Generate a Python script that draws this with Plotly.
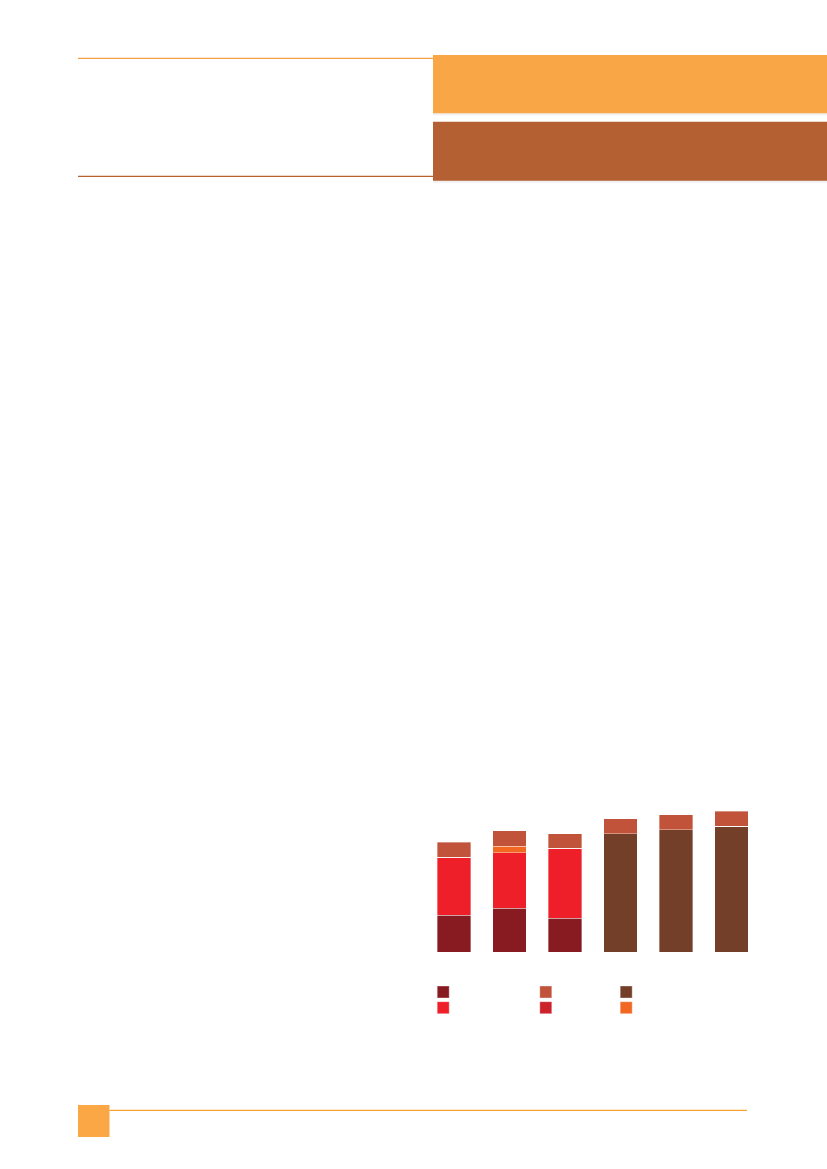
import plotly.graph_objects as go

# ---- data (arbitrary units) ----
categories = ["A", "B", "C", "D", "E", "F"]
seg_darkred = [37.0, 44.0, 34.0, 0, 0, 0]
seg_red = [58.3, 55.7, 70.0, 0, 0, 0]
seg_crimson = [0, 0, 0, 0, 0, 0]
seg_orange = [0, 6.3, 0, 0, 0, 0]
seg_brown = [0, 0, 0, 118.7, 122.7, 126.0]
seg_brick = [15.0, 15.7, 14.7, 14.7, 14.7, 15.0]

W, H = 827, 1169


def px(x):
    return x / W


def py(y):
    return 1 - y / H


line_style = dict(color="rgba(255,255,255,0.45)", width=0.8)

fig = go.Figure()

series = [
    ("brown", seg_brown, "#743F28", "legend3"),
    ("darkred", seg_darkred, "#881A22", "legend"),
    ("red", seg_red, "#EE1F29", "legend4"),
    ("crimson", seg_crimson, "#CC2229", "legend5"),
    ("orange", seg_orange, "#F26722", "legend6"),
    ("brick", seg_brick, "#C0533A", "legend2"),
]
for name, vals, col, lg in series:
    fig.add_trace(go.Bar(
        x=categories, y=vals, name=" ", marker=dict(color=col, line=line_style),
        legend=lg, showlegend=True, hoverinfo="skip",
    ))

# plot area in pixels
x0, x1 = 426.25, 759.25
yb, yt = 952.3, 800.0

legend_pos = {
    "legend": (437.7, 986.0),
    "legend2": (540.3, 986.0),
    "legend3": (620.7, 986.0),
    "legend4": (437.7, 1001.7),
    "legend5": (540.3, 1001.7),
    "legend6": (620.7, 1001.7),
}
legend_layout = {}
for k, (lx, ly) in legend_pos.items():
    legend_layout[k] = dict(
        x=px(lx - 14.5), y=py(ly - 8.5), xanchor="left", yanchor="top",
        bgcolor="rgba(0,0,0,0)", borderwidth=0, font=dict(size=8),
        itemclick=False, itemdoubleclick=False,
    )

shapes = []
# header
shapes.append(dict(type="line", x0=px(78), x1=px(433), y0=py(58.3), y1=py(58.3),
                   xref="paper", yref="paper", line=dict(color="#F7A040", width=1.2)))
shapes.append(dict(type="line", x0=px(78), x1=px(433), y0=py(176.3), y1=py(176.3),
                   xref="paper", yref="paper", line=dict(color="#B9602F", width=1.2)))
for (t, b, c) in [(55.0, 113.3, "#F9A646"), (121.7, 180.7, "#B46033")]:
    shapes.append(dict(type="rect", x0=px(433), x1=px(828), y0=py(b + 2), y1=py(t + 1),
                       xref="paper", yref="paper", line=dict(width=0),
                       fillcolor="rgba(0,0,0,0.06)", layer="below"))
    shapes.append(dict(type="rect", x0=px(433), x1=px(828), y0=py(b), y1=py(t),
                       xref="paper", yref="paper", line=dict(width=0), fillcolor=c))
# footer
shapes.append(dict(type="rect", x0=px(78), x1=px(109.5), y0=py(1137), y1=py(1105),
                   xref="paper", yref="paper", line=dict(width=0), fillcolor="#FBA746"))
shapes.append(dict(type="line", x0=px(109.5), x1=px(747), y0=py(1110.3), y1=py(1110.3),
                   xref="paper", yref="paper", line=dict(color="#F9A235", width=1.2)))

fig.update_layout(
    width=W, height=H, margin=dict(l=0, r=0, t=0, b=0),
    paper_bgcolor="white", plot_bgcolor="white",
    barmode="stack", bargap=0.405,
    xaxis=dict(domain=[px(x0), px(x1)], visible=False, range=[-0.5, 5.5]),
    yaxis=dict(domain=[py(yb), py(yt)], visible=False, range=[0, yb - yt]),
    shapes=shapes,
    **legend_layout,
)

fig.write_html("out.html", post_script="document.body.style.margin='0';",
               config={"displayModeBar": False})
